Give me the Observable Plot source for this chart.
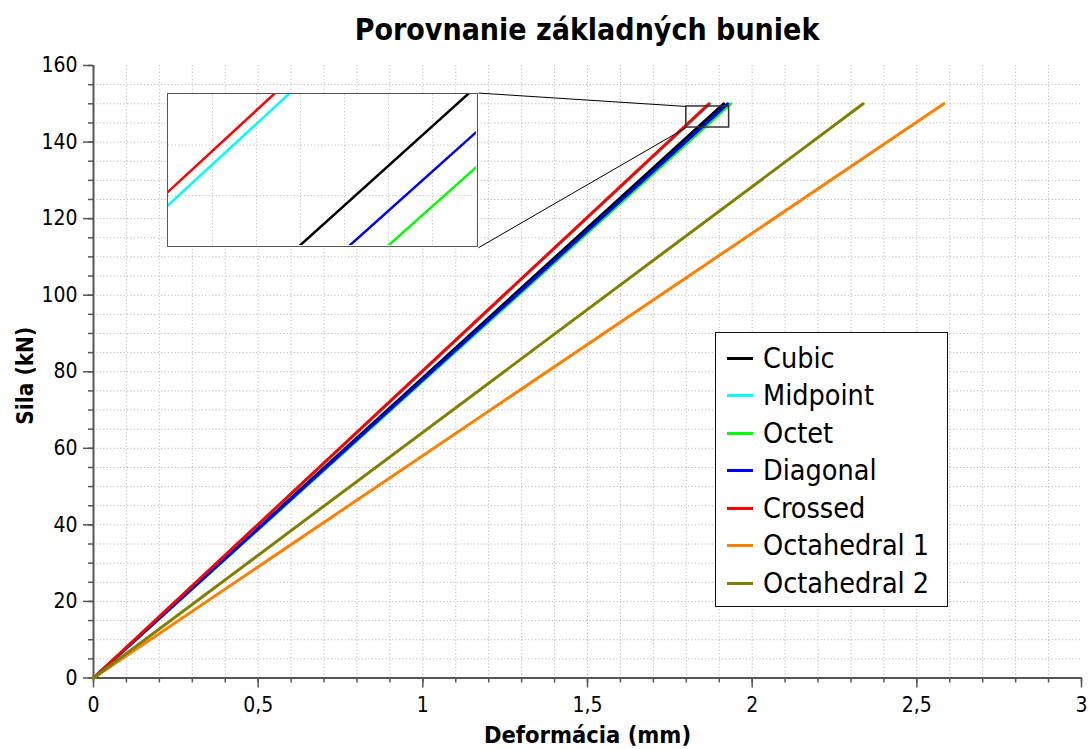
<!DOCTYPE html>
<html>
<head>
<meta charset="utf-8">
<script src="https://cdn.jsdelivr.net/npm/d3@7"></script>
<script src="https://cdn.jsdelivr.net/npm/@observablehq/plot@0.6"></script>
<style>
  body { margin: 0; background: #fff; }
  #wrap { position: relative; width: 1089px; height: 749px; overflow: hidden;
          font-family: "DejaVu Sans Condensed", "DejaVu Sans", sans-serif; }
  #title { position: absolute; left: 93px; right: 8px; top: 5px; height: 45px; line-height: 50px;
           text-align: center; font-weight: bold; font-size: 30px; color: #000; }
  #chart { position: absolute; left: 0; top: 50px; }
  #inset { position: absolute; box-sizing: border-box; border: 1.5px solid #555; background: #fff; }
  #legend { position: absolute; box-sizing: border-box; border: 1.5px solid #111; background: #fff;
            padding: 7px 0 5px 11px; font-size: 28.5px; color: #000; }
  .row { height: 37.5px; display: flex; align-items: center; }
  .sw { width: 26px; height: 3px; margin-right: 10px; }
</style>
</head>
<body>
<div id="wrap">
  <div id="title">Porovnanie základných buniek</div>
  <div id="chart"></div>
</div>
<script>
// Series of the load–deformation comparison (linear response up to 150 kN)
const series = ["Cubic", "Midpoint", "Octet", "Diagonal", "Crossed", "Octahedral 1", "Octahedral 2"];
const colors = ["#000000", "#00ffff", "#00ff00", "#0000ff", "#ff0000", "#ff8000", "#808000"];
const maxDeformation = [1.9135, 1.8722, 1.9343, 1.9252, 1.8688, 2.582, 2.337]; // mm
const maxForce = [150, 150, 150, 150, 150, 150, 150]; // kN

// Axis ticks and labels
const xTicks = [0, 0.5, 1, 1.5, 2, 2.5, 3];
const xTickLabels = ["0", "0,5", "1", "1,5", "2", "2,5", "3"];
const yTicks = [0, 20, 40, 60, 80, 100, 120, 140, 160];
const yTickLabels = ["0", "20", "40", "60", "80", "100", "120", "140", "160"];
const xMinor = d3.range(0, 31).map(i => i / 10);
const yMinor = d3.range(0, 33).map(i => i * 5);
const xGrid = xMinor.filter(v => v > 0 && v < 3);
const yGrid = yMinor.filter(v => v > 0 && v < 160);

// Highlighted region and the magnified view of it
const zoomBox = {x1: 1.80, x2: 1.93, y1: 143.8, y2: 149.3};
const insetDomainX = [1.82, 1.89];
const insetDomainY = [145, 148];
const insetGridX = [1.83, 1.84, 1.85, 1.86, 1.87, 1.88];
const insetGridY = [146, 147];
const insetPlacement = {x1: 0.225, x2: 1.169, y1: 112.4, y2: 152.8}; // in main-chart units

const rows = series.flatMap((s, i) => [
  {series: s, deformation: 0, force: 0},
  {series: s, deformation: maxDeformation[i], force: maxForce[i]}
]);

const FONT = '"DejaVu Sans Condensed", "DejaVu Sans", sans-serif';
const AXIS = "#555";

const connectors = [
  {x1: insetPlacement.x2, y1: insetPlacement.y2, x2: zoomBox.x1, y2: zoomBox.y2},
  {x1: insetPlacement.x2, y1: insetPlacement.y1, x2: zoomBox.x1, y2: zoomBox.y1}
];

const main = Plot.plot({
  width: 1089,
  height: 699,
  marginTop: 15,
  marginBottom: 71.5,
  marginLeft: 93,
  marginRight: 8,
  style: {fontFamily: FONT, background: "transparent", color: "#000"},
  x: {domain: [0, 3], label: null},
  y: {domain: [0, 160], label: null},
  color: {domain: series, range: colors},
  marks: [
    Plot.ruleX(xGrid, {stroke: "#bcbcbc", strokeDasharray: "1.2,2.2", strokeWidth: 1}),
    Plot.ruleY(yGrid, {stroke: "#bcbcbc", strokeDasharray: "1.2,2.2", strokeWidth: 1}),
    Plot.axisX(xMinor, {tickSize: 5, tickFormat: () => "", stroke: AXIS, strokeWidth: 1.5, label: null}),
    Plot.axisX(xTicks, {tickSize: 10, tickPadding: 9, tickFormat: d => xTickLabels[xTicks.indexOf(d)],
      fontSize: 21, stroke: AXIS, fill: "#000", strokeWidth: 1.5, label: null}),
    Plot.axisY(yMinor, {tickSize: 5, tickFormat: () => "", stroke: AXIS, strokeWidth: 1.5, label: null}),
    Plot.axisY(yTicks, {tickSize: 10, tickPadding: 6, tickFormat: d => yTickLabels[yTicks.indexOf(d)],
      fontSize: 21, stroke: AXIS, fill: "#000", strokeWidth: 1.5, label: null}),
    Plot.ruleX([0], {stroke: AXIS, strokeWidth: 2}),
    Plot.ruleY([0], {stroke: AXIS, strokeWidth: 2}),
    Plot.line(rows, {x: "deformation", y: "force", z: "series", stroke: "series", strokeWidth: 3}),
    Plot.rect([zoomBox], {x1: "x1", x2: "x2", y1: "y1", y2: "y2", fill: "none", stroke: "#333", strokeWidth: 1.5}),
    Plot.link(connectors, {x1: "x1", y1: "y1", x2: "x2", y2: "y2", stroke: "#000", strokeWidth: 1}),
    Plot.text(["Deformácia (mm)"], {frameAnchor: "bottom", dy: 57, fontSize: 23.5, fontWeight: "bold",
      textAnchor: "middle", lineAnchor: "middle"}),
    Plot.text(["Sila (kN)"], {frameAnchor: "left", dx: -68, dy: 4, rotate: -90, fontSize: 22.5, fontWeight: "bold",
      textAnchor: "middle", lineAnchor: "middle"})
  ]
});
document.getElementById("chart").appendChild(main);

// Magnified view, placed through the main chart's scales
const sx = main.scale("x"), sy = main.scale("y");
const insetLeft = sx.apply(insetPlacement.x1), insetRight = sx.apply(insetPlacement.x2);
const insetTop = sy.apply(insetPlacement.y2) + 50, insetBottom = sy.apply(insetPlacement.y1) + 50;
const insetBox = document.createElement("div");
insetBox.id = "inset";
Object.assign(insetBox.style, {left: insetLeft + "px", top: insetTop + "px",
  width: (insetRight - insetLeft) + "px", height: (insetBottom - insetTop) + "px"});
const inset = Plot.plot({
  width: insetRight - insetLeft - 3,
  height: insetBottom - insetTop - 3,
  margin: 0,
  style: {background: "#fff"},
  x: {domain: insetDomainX, axis: null},
  y: {domain: insetDomainY, axis: null},
  color: {domain: series, range: colors},
  marks: [
    Plot.ruleX(insetGridX, {stroke: "#c4c4c4", strokeDasharray: "1.2,2.2", strokeWidth: 1}),
    Plot.ruleY(insetGridY, {stroke: "#c4c4c4", strokeDasharray: "1.2,2.2", strokeWidth: 1}),
    Plot.line(rows, {x: "deformation", y: "force", z: "series", stroke: "series", strokeWidth: 2.5, clip: true})
  ]
});
insetBox.appendChild(inset);
document.getElementById("wrap").appendChild(insetBox);

// Legend
const legend = document.createElement("div");
legend.id = "legend";
Object.assign(legend.style, {left: "715px", top: "331.5px", width: "233px", height: "275.5px"});
series.forEach((s, i) => {
  const row = document.createElement("div");
  row.className = "row";
  const sw = document.createElement("div");
  sw.className = "sw";
  sw.style.background = colors[i];
  const label = document.createElement("span");
  label.textContent = s;
  row.append(sw, label);
  legend.appendChild(row);
});
document.getElementById("wrap").appendChild(legend);
</script>
</body>
</html>
